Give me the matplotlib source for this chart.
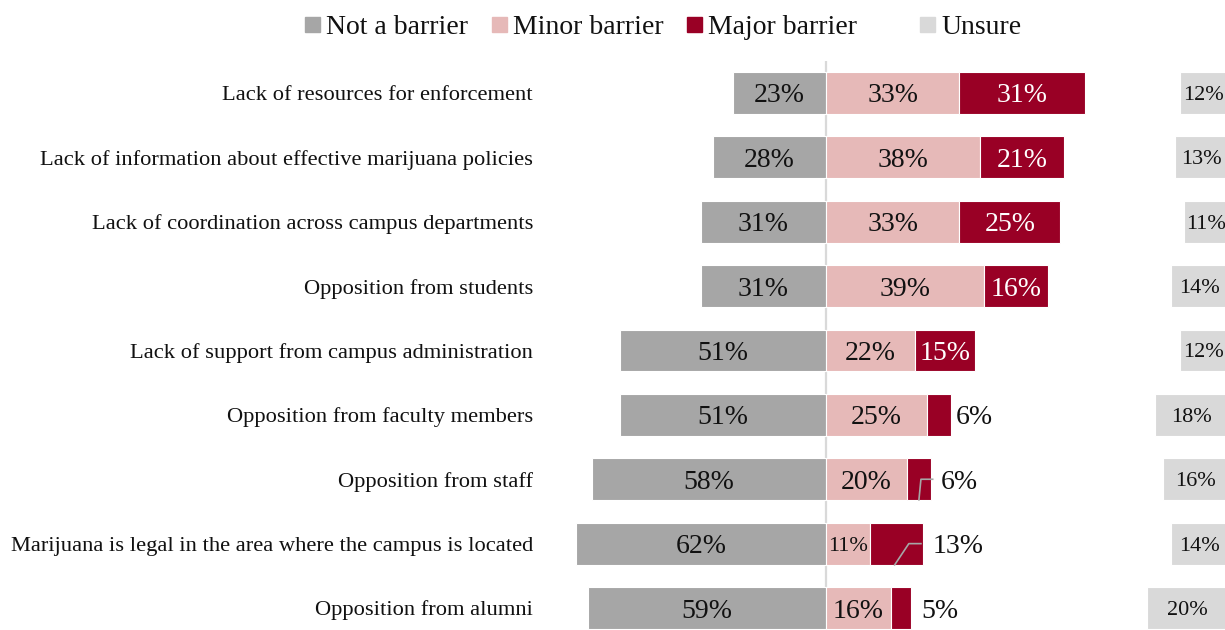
import numpy as np
import matplotlib.pyplot as plt
from matplotlib.patches import Rectangle

plt.rcParams['font.family'] = ['Liberation Serif', 'DejaVu Serif']

categories = [
    'Lack of resources for enforcement',
    'Lack of information about effective marijuana policies',
    'Lack of coordination across campus departments',
    'Opposition from students',
    'Lack of support from campus administration',
    'Opposition from faculty members',
    'Opposition from staff',
    'Marijuana is legal in the area where the campus is located',
    'Opposition from alumni',
]
not_barrier = [23, 28, 31, 31, 51, 51, 58, 62, 59]
minor = [33, 38, 33, 39, 22, 25, 20, 11, 16]
major = [31, 21, 25, 16, 15, 6, 6, 13, 5]
unsure = [12, 13, 11, 14, 12, 18, 16, 14, 20]

legend_labels = ['Not a barrier', 'Minor barrier', 'Major barrier', 'Unsure']

c_not = '#a6a6a6'
c_minor = '#e6b9b8'
c_major = '#990025'
c_unsure = '#d9d9d9'

W, H = 1225, 630
fig = plt.figure(figsize=(W / 100, H / 100), dpi=100)
ax = fig.add_axes([540 / W, 0, 685 / W, (H - 61) / H])

y = np.arange(len(categories))
nb = np.array(not_barrier)
mi = np.array(minor)
ma = np.array(major)
un = np.array(unsure)
h = 0.65
unsure_end = 99.5

ax.barh(y, -nb, height=h, color=c_not, edgecolor='white', linewidth=0.8)
ax.barh(y, mi, height=h, color=c_minor, edgecolor='white', linewidth=0.8)
ax.barh(y, ma, left=mi, height=h, color=c_major, edgecolor='white', linewidth=0.8)
ax.barh(y, un, left=unsure_end - un, height=h, color=c_unsure, edgecolor='white', linewidth=0.8)
ax.axvline(0, color='#d9d9d9', lw=1.6, zorder=0.5)

va = 'center_baseline'
for i in range(len(categories)):
    ax.text(-nb[i] / 2, i, f'{nb[i]}%', ha='center', va=va, fontsize=20, color='#111111')
    fs = 16 if mi[i] < 12 else 20
    ax.text(mi[i] / 2, i, f'{mi[i]}%', ha='center', va=va, fontsize=fs, color='#111111')
    end = mi[i] + ma[i]
    if ma[i] >= 15:
        ax.text(mi[i] + ma[i] / 2, i, f'{ma[i]}%', ha='center', va=va, fontsize=20, color='white')
    else:
        gap = 1.0 if i == 5 else 2.5
        ax.text(end + gap, i, f'{ma[i]}%', ha='left', va=va, fontsize=20, color='#111111')
    ax.text(unsure_end - un[i] / 2, i, f'{un[i]}%', ha='center', va=va, fontsize=16, color='#111111')

# leader lines from outside labels back into the small major segments
ax.plot([mi[6] + ma[6] + 0.4, mi[6] + ma[6] / 2 + 0.5, mi[6] + ma[6] / 2],
        [6, 6, 6 + 0.32], color='#a6a6a6', lw=1.2)
ax.plot([mi[7] + ma[7] - 0.5, mi[7] + ma[7] - 3.5, mi[7] + ma[7] - 7],
        [7, 7, 7 + 0.33], color='#a6a6a6', lw=1.2)

ax.set_xlim((540 - 826) / 4.04, (1225 - 826) / 4.04)
ax.set_ylim(8 + 22 / 64.4, -32 / 64.4)
ax.set_yticks(y)
ax.set_yticklabels(categories, fontsize=16.2, color='#111111')
ax.tick_params(axis='y', length=0, pad=5)
ax.set_xticks([])
for s in ax.spines.values():
    s.set_visible(False)

# legend row across the top
sq_x = [305, 492, 687, 920]
for xs, lab, col in zip(sq_x, legend_labels, [c_not, c_minor, c_major, c_unsure]):
    fig.patches.append(Rectangle((xs / W, (H - 32) / H), 15 / W, 15 / H,
                                 transform=fig.transFigure, color=col))
    fig.text((xs + 21) / W, (H - 25) / H, lab, ha='left', va='center_baseline',
             fontsize=20, color='#111111')

fig.savefig('out.png', dpi=100)
